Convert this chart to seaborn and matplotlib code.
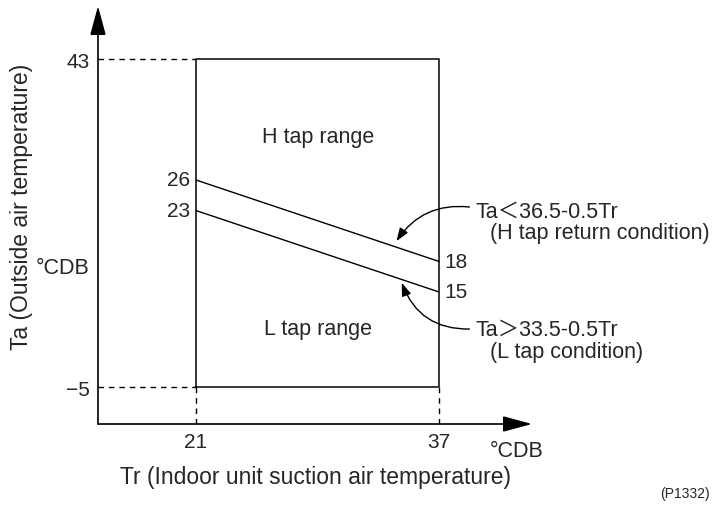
import numpy as np
import pandas as pd
import matplotlib
matplotlib.use("Agg")
import matplotlib.pyplot as plt
import seaborn as sns

# Operating envelope (°CDB)
tr_range = [21, 37]          # indoor suction air temperature limits
ta_range = [-5, 43]          # outside air temperature limits
h_return = [26, 18]          # Ta = 36.5 - 0.5 Tr  (H tap return)
l_cond = [23, 15]            # Ta = 33.5 - 0.5 Tr  (L tap)

sns.set_style("white")
plt.rcParams["font.family"] = ["Liberation Sans", "Noto Sans CJK JP", "DejaVu Sans"]

W, H = 713, 506
fig = plt.figure(figsize=(W / 100, H / 100), dpi=100)
ax = fig.add_axes([98 / W, (H - 425) / H, (532 - 98) / W, (425 - 7) / H])


def fpos(x, y):
    return x / W, 1 - y / H


# schematic (non-uniform) temperature axis: piecewise linear between key values
_kv = np.array([-60.0, -5, 15, 26, 43, 100])
_kh = np.array([37 - 55 * 4.75, 37, 132, 244, 365, 365 + 57 * (121 / 17)])


def fwd(v):
    return np.interp(v, _kv, _kh)


def inv(h):
    return np.interp(h, _kh, _kv)


ax.set_yscale("function", functions=(fwd, inv))
x0, x1 = 21 - 98 / (243 / 16), 37 + 93 / (243 / 16)
y0, y1 = float(inv(0.0)), float(inv(418.0))
ax.set_xlim(x0, x1)
ax.set_ylim(y0, y1)

# switching lines
df = pd.DataFrame({
    "Tr": tr_range * 2,
    "Ta": h_return + l_cond,
    "line": ["H return"] * 2 + ["L"] * 2,
})
sns.lineplot(data=df, x="Tr", y="Ta", units="line", estimator=None,
             color="black", lw=1.0, legend=False, ax=ax)

# envelope box
bx = [tr_range[0], tr_range[1], tr_range[1], tr_range[0], tr_range[0]]
by = [ta_range[0], ta_range[0], ta_range[1], ta_range[1], ta_range[0]]
ax.plot(bx, by, color="black", lw=1.1)

# dashed guides to the axes
dash = dict(color="black", lw=1.0, linestyle=(0, (4, 3.5)))
for ta in ta_range:
    ax.plot([x0, tr_range[0]], [ta, ta], **dash)
for tr in tr_range:
    ax.plot([tr, tr], [y0, ta_range[0]], **dash)

# axes with arrow heads
for sp in ax.spines.values():
    sp.set_visible(False)
arrow = dict(arrowstyle="-|>,head_length=1.0,head_width=0.27", color="black",
             lw=1.2, shrinkA=0, shrinkB=0, mutation_scale=18)
ax.annotate("", xy=(1, 0), xytext=(0, 0), xycoords="axes fraction",
            arrowprops=arrow)
ax.annotate("", xy=(0, 1), xytext=(0, 0), xycoords="axes fraction",
            arrowprops=arrow)

fs = 15.5
fn = 15
ft = 16.5
ax.set_xticks(tr_range)
ax.set_yticks(ta_range)
ax.set_xticklabels([str(v) for v in tr_range])
ax.set_yticklabels(["\u2212" + str(-v) if v < 0 else str(v) for v in ta_range])
ax.tick_params(length=0, labelsize=fn)
ax.tick_params(axis="y", pad=6)
ax.tick_params(axis="x", pad=6)
ax.set_xlabel("")
ax.set_ylabel("")

# end-point values of the switching lines
for v in (h_return[0], l_cond[0]):
    ax.annotate(str(v), xy=(tr_range[0], v), xytext=(-4, 0),
                textcoords="offset points", ha="right", va="center", fontsize=fn)
for v in (h_return[1], l_cond[1]):
    ax.annotate(str(v), xy=(tr_range[1], v), xytext=(4, 0),
                textcoords="offset points", ha="left", va="center", fontsize=fn)

# region names
fig.text(*fpos(318, 137), "H tap range", ha="center", va="center", fontsize=fs)
fig.text(*fpos(318, 330), "L tap range", ha="center", va="center", fontsize=fs)

# conditions with curved pointers
cur = dict(arrowstyle="-|>,head_length=0.6,head_width=0.22", color="black",
           lw=1.0, shrinkA=0, shrinkB=0, mutation_scale=13)
ax.annotate("", xy=(34.2, 20.0), xytext=(39.0, 23.35),
            arrowprops=dict(connectionstyle="arc3,rad=0.3", **cur))
ax.annotate("", xy=(34.55, 15.9), xytext=(39.0, 7.2),
            arrowprops=dict(connectionstyle="arc3,rad=-0.35", **cur))
fig.text(*fpos(476, 212), "Ta\uff1c36.5-0.5Tr", ha="left", va="center", fontsize=fs)
fig.text(*fpos(490, 234), "(H tap return condition)", ha="left", va="center", fontsize=fs)
fig.text(*fpos(476, 330), "Ta\uff1e33.5-0.5Tr", ha="left", va="center", fontsize=fs)
fig.text(*fpos(490, 353), "(L tap condition)", ha="left", va="center", fontsize=fs)

# axis titles and units
fig.text(*fpos(22, 207), "Ta (Outside air temperature)", rotation=90,
         ha="center", va="center", fontsize=ft)
fig.text(*fpos(36, 268), "\u00b0CDB", ha="left", va="center", fontsize=fs)
fig.text(*fpos(315, 478), "Tr (Indoor unit suction air temperature)",
         ha="center", va="center", fontsize=ft)
fig.text(*fpos(490, 452), "\u00b0CDB", ha="left", va="center", fontsize=fs)
fig.text(*fpos(710, 494), "(P1332)", ha="right", va="center", fontsize=10)

fig.savefig("out.png", dpi=100, facecolor="white")
